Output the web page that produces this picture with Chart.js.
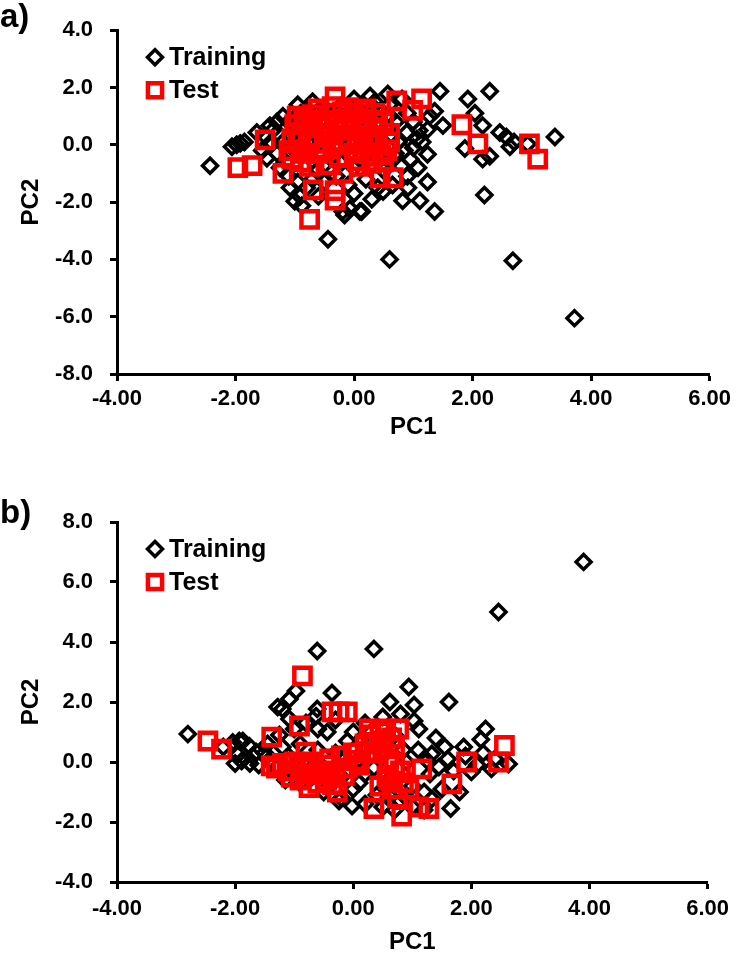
<!DOCTYPE html>
<html><head><meta charset="utf-8">
<script src="https://cdn.jsdelivr.net/npm/chart.js@4.4.0/dist/chart.umd.min.js"></script>
<style>
html,body{margin:0;padding:0;background:#fff;}
#wrap{position:relative;width:736px;height:962px;overflow:hidden;}
.panel{position:absolute;left:0;width:736px;height:481px;}
#pa{top:0;}
#pb{top:481px;}
.lbl{position:absolute;left:0;font:bold 33px "Liberation Sans",Arial,sans-serif;color:#000;line-height:36px;}
</style></head>
<body><div id="wrap">
<div class="panel" id="pa"><canvas id="ca" width="736" height="481"></canvas></div>
<div class="panel" id="pb"><canvas id="cb" width="736" height="481"></canvas></div>
<div class="lbl" style="top:-2px">a)</div>
<div class="lbl" style="top:494px">b)</div>
</div>
<script>
// ---- tick values / labels ----
const xTickValues = [-4, -2, 0, 2, 4, 6];
const xTickLabels = ['-4.00', '-2.00', '0.00', '2.00', '4.00', '6.00'];
const yTickValuesA = [-8, -6, -4, -2, 0, 2, 4];
const yTickLabelsA = ['-8.0', '-6.0', '-4.0', '-2.0', '0.0', '2.0', '4.0'];
const yTickValuesB = [-4, -2, 0, 2, 4, 6, 8];
const yTickLabelsB = ['-4.0', '-2.0', '0.0', '2.0', '4.0', '6.0', '8.0'];
const seriesNames = ['Training', 'Test'];

// ---- panel a) data [PC1, PC2] ----
const trainA = [
 [3.72,-6.05],[2.68,-4.05],[0.6,-4.0],[-0.44,-3.3],[2.2,-1.75],[0.1,-2.33],[-0.16,-2.45],[1.36,-2.33],
 [0.82,-1.95],[1.11,-1.95],[0.49,-1.63],[0.91,-1.5],[1.24,-1.3],[1.08,-0.8],[1.24,-0.33],[1.06,0.2],
 [0.89,0.43],[1.24,0.53],[1.5,0.67],[1.28,1.0],[1.36,1.17],[1.45,1.87],[1.92,1.6],[2.29,1.87],
 [0.27,1.7],[0.57,1.77],[0.81,1.6],[0.32,1.33],[2.04,1.1],[2.17,0.67],[2.46,0.43],[2.57,0.27],
 [2.63,-0.07],[2.7,0.1],[1.87,-0.13],[2.17,-0.5],[2.29,-0.4],[3.39,0.27],[2.93,0.03],
 [-2.43,-0.73],[-2.06,-0.07],[-1.98,0.0],[-1.92,0.05],[-1.85,0.1],[-1.64,0.43],[-1.5,0.3],[-1.42,0.67],
 [-1.35,0.55],[-1.2,0.1],[-1.3,-0.3],[-1.15,-0.6],[-1.47,-0.47],[-1.08,-1.5],[-1.0,-1.97],[-0.88,-2.13],
 [-0.91,-1.8],[-0.63,-0.9],[-0.19,-2.33],[-0.07,-2.23],[0.13,-2.33],
 [-1.1,0.8],[-1.0,0.95],[-0.9,1.1],[-0.8,1.2],[-0.6,1.15],[-0.5,1.3],[-0.4,1.0],[-0.3,1.2],
 [-0.2,1.4],[-0.1,1.1],[0.0,1.25],[0.1,0.9],[0.2,1.1],[0.35,1.5],[0.45,1.2],[0.6,1.0],[0.7,0.8],
 [-1.05,0.3],[-0.95,0.5],[-0.85,0.2],[-0.75,0.6],[-0.65,0.35],[-0.55,0.1],[-0.45,0.55],[-0.35,0.25],
 [-0.25,0.7],[-0.15,0.4],[-0.05,0.05],[0.05,0.6],[0.15,0.3],[0.25,-0.1],[0.35,0.45],[0.45,0.15],
 [0.55,0.6],[0.65,0.3],[0.75,0.1],[0.85,-0.2],[-1.0,-0.2],[-0.9,-0.4],[-0.8,-0.1],[-0.7,-0.55],
 [-0.6,-0.3],[-0.5,-0.7],[-0.4,-0.45],[-0.3,-0.15],[-0.2,-0.6],[-0.1,-0.35],[0.0,-0.8],[0.1,-0.5],
 [0.2,-0.25],[0.3,-0.7],[0.4,-0.4],[0.5,-0.9],[0.6,-0.55],[0.7,-0.3],[0.8,-0.75],[0.9,-1.1],
 [-0.7,-1.2],[-0.5,-1.3],[-0.3,-1.1],[-0.1,-1.4],[0.2,-1.2],[0.4,-1.5],[-0.8,-1.5],[-0.6,-1.8],
 [0.0,-1.7],[0.3,-1.9],[0.65,-1.4],[-1.3,0.8],[-1.2,1.0],[-0.95,1.4],[-0.7,1.5],[0.0,1.6],
 [0.6,1.4],[0.9,1.1],[1.0,0.8],[1.1,0.5],[1.15,0.1],[1.0,-0.1],[0.95,-0.5],
 [-1.4,0.1],[-1.55,-0.2],[-1.25,-0.8],[-1.1,-1.1],[-0.95,-1.3]
];
const testA = [
 [-0.32,1.67],[-0.37,1.33],[0.72,1.53],[1.14,1.6],[0.99,1.2],[1.82,0.7],[2.09,0.03],[2.96,0.03],
 [3.1,-0.5],[-1.5,0.17],[-1.96,-0.8],[-1.72,-0.73],[-1.2,-1.0],[-0.69,-1.57],[-0.32,-1.6],[-0.32,-1.93],
 [-0.75,-2.6],[-0.19,-1.0],[0.44,-1.15],[0.66,-1.15],[-0.96,1.0],
 [-1.0,0.7],[-0.9,0.4],[-0.85,0.9],[-0.75,0.1],[-0.7,0.6],[-0.6,0.85],[-0.5,0.3],[-0.45,0.7],
 [-0.35,0.0],[-0.25,0.5],[-0.15,0.9],[-0.1,0.2],[0.0,1.1],[0.0,-0.3],[0.1,0.5],[0.15,0.0],
 [0.2,0.9],[0.25,0.3],[0.3,-0.4],[0.35,0.6],[0.4,0.1],[0.5,0.8],[0.55,-0.2],[0.6,0.4],
 [-1.1,-0.2],[-1.05,0.2],[-0.9,-0.6],[-0.6,-0.3],[-0.4,-0.7],[0.1,-0.75],[0.5,-0.6],[-0.1,1.3],
 [0.2,1.25],[-0.7,1.05],
 [-0.95,0.15],[-0.8,0.75],[-0.65,0.05],[-0.55,0.6],[-0.4,0.35],[-0.3,0.85],[-0.2,0.1],[-0.05,0.6],
 [0.05,0.15],[0.15,0.7],[0.3,0.05],[0.4,0.85],[0.45,-0.35],[0.6,0.1],[-0.85,-0.3],[-0.5,-0.15],
 [-0.25,-0.45],[0.05,-0.55],[0.3,-0.65],[-0.6,1.25],[-0.2,1.15],[0.35,1.1],[-1.05,-0.5],[-0.75,-0.75]
];

// ---- panel b) data [PC1, PC2] ----
const trainB = [
 [3.9,6.67],[2.46,5.0],[-0.61,3.7],[0.35,3.77],[0.94,2.5],[1.62,2.0],[0.62,2.0],[1.03,1.9],
 [-0.36,2.3],[-0.97,2.37],[-1.08,2.1],[-1.28,1.83],[-1.2,1.77],[-1.08,1.43],[-0.63,1.53],[-0.61,1.77],
 [1.03,1.37],[1.11,1.1],[-0.44,1.0],[-2.8,0.93],[-1.87,0.7],[-2.04,0.65],[-1.93,0.7],[-1.76,0.53],
 [-1.64,0.33],[-1.89,0.03],[2.24,1.1],[2.16,0.75],[1.87,0.5],[2.63,-0.07],[1.33,0.27],[1.45,-0.17],
 [1.65,-1.55],[1.33,-1.23],[-0.24,-1.3],[-0.02,-1.47],[2.0,-0.33],[2.34,-0.23],
 [-1.5,0.3],[-1.4,0.1],[-1.3,-0.2],[-1.2,0.5],[-1.1,0.2],[-1.0,-0.3],[-0.9,0.6],[-0.8,0.0],
 [-0.7,-0.5],[-0.6,0.4],[-0.5,-0.2],[-0.4,-0.8],[-0.3,0.3],[-0.2,-0.5],[-0.1,0.7],[0.0,-0.9],
 [0.1,0.1],[0.2,-0.4],[0.3,0.6],[0.4,-1.1],[0.5,0.2],[0.6,-0.6],[0.7,0.9],[0.8,-1.3],
 [0.9,0.0],[1.0,-0.8],[1.1,0.4],[1.2,-1.0],[1.3,-0.4],[1.4,0.8],[1.5,-0.9],[1.6,0.1],
 [1.7,-0.3],[1.8,-1.0],[2.1,-0.1],[2.2,0.3],[2.4,0.1],[-1.6,-0.1],[-1.7,0.2],[-1.25,0.9],
 [-1.0,1.1],[-0.8,1.3],[-0.6,1.1],[-0.3,1.4],[0.0,1.0],[0.2,1.3],[0.5,1.5],[0.8,1.6],
 [-0.5,-1.0],[-0.2,-1.2],[0.2,-1.4],[0.5,-1.5],[0.7,-1.6],[1.0,-1.5],[1.2,-1.6],[0.6,-1.1],
 [0.9,-1.2],[-0.9,-0.7],[-1.15,-0.6],[0.1,-0.7],[0.35,-0.2],[1.25,0.05],[1.55,0.5],[1.9,0.2],
 [0.85,0.4],[-0.15,0.1],[-0.65,-0.1],[-1.45,0.6],[-2.2,0.5],[-1.95,0.25],[-2.0,-0.05],[-1.75,-0.05]
];
const testB = [
 [-0.86,2.87],[-0.36,1.67],[-0.24,1.67],[-0.1,1.67],[-0.91,1.2],[-1.38,0.83],[-2.46,0.7],[-2.23,0.43],
 [2.56,0.55],[1.92,0.0],[2.46,0.0],[1.16,-0.23],[1.67,-0.73],[0.35,-1.55],[0.82,-1.8],[1.28,-1.55],
 [1.11,-1.5],[-1.39,-0.13],[-0.8,0.33],[0.57,-0.47],[0.66,-0.9],[0.94,-0.9],[0.55,1.1],[0.77,1.1],
 [0.27,1.1],[-0.27,-1.0],
 [-1.3,-0.2],[-1.1,-0.3],[-1.0,0.0],[-0.9,-0.6],[-0.8,-0.4],[-0.7,0.0],[-0.6,-0.7],[-0.5,-0.3],
 [-0.4,0.1],[-0.3,-0.5],[-0.2,0.2],[-0.1,-0.2],[0.0,0.3],[0.1,-0.1],[0.2,0.6],[0.3,0.9],
 [0.4,0.3],[0.5,0.7],[0.6,0.1],[0.7,0.5],[0.8,-0.3],[-0.75,-0.85],[-0.45,-0.6],[0.45,-0.8],[0.75,-1.2],
 [-1.2,-0.05],[-1.05,-0.5],[-0.85,-0.15],[-0.65,-0.4],[-0.45,-0.1],[-0.35,-0.75],[-0.15,-0.45],[0.05,0.05],
 [0.25,0.35],[0.35,0.65],[0.5,0.45],[0.65,0.8],[0.7,-0.1],[0.6,-0.6],[0.85,-0.7],[0.45,1.0]
];

const FONT = '"Liberation Sans", Arial, sans-serif';
const toXY = arr => arr.map(p => ({x: p[0], y: p[1]}));
const legendRowOffsets = [27, 60];
const legendMarkerRadius = [7.5, 10];

// legend drawn inside the plot area, top-left, from each dataset's own style
const insideLegend = {
  id: 'insideLegend',
  afterDatasetsDraw(chart) {
    const ctx = chart.ctx, ca = chart.chartArea;
    chart.data.datasets.forEach((ds, i) => {
      const cx = ca.left + 38, cy = ca.top + legendRowOffsets[i];
      const r = legendMarkerRadius[i];
      ctx.save();
      ctx.strokeStyle = ds.borderColor;
      ctx.lineWidth = ds.pointBorderWidth;
      ctx.lineJoin = 'miter';
      ctx.beginPath();
      if (ds.pointStyle === 'rectRot') {
        ctx.moveTo(cx, cy - r); ctx.lineTo(cx + r, cy); ctx.lineTo(cx, cy + r); ctx.lineTo(cx - r, cy); ctx.closePath();
      } else {
        const s = r * Math.SQRT1_2;
        ctx.rect(cx - s, cy - s, 2 * s, 2 * s);
      }
      ctx.stroke();
      ctx.fillStyle = '#000';
      ctx.font = 'bold 25px ' + FONT;
      ctx.textBaseline = 'middle';
      ctx.textAlign = 'left';
      ctx.fillText(ds.label, ca.left + 52, cy + 1);
      ctx.restore();
    });
  }
};

function makeChart(id, train, test, yVals, yLabels, yMin, yMax, pad, xH, xTickPad) {
  return new Chart(document.getElementById(id), {
    type: 'scatter',
    data: {
      datasets: [
        { label: seriesNames[0], data: toXY(train), order: 1,
          pointStyle: 'rectRot', pointRadius: 7.5, pointBorderWidth: 3.5,
          borderColor: '#000000', backgroundColor: 'rgba(0,0,0,0)' },
        { label: seriesNames[1], data: toXY(test), order: 0,
          pointStyle: 'rect', pointRadius: 11.5, pointBorderWidth: 4.5,
          borderColor: '#ff0000', backgroundColor: 'rgba(0,0,0,0)' }
      ]
    },
    options: {
      responsive: false, animation: false, devicePixelRatio: 1, events: [],
      layout: { padding: pad },
      plugins: {
        tooltip: { enabled: false },
        legend: { display: false }
      },
      scales: {
        x: {
          type: 'linear', min: -4, max: 6,
          afterBuildTicks: s => { s.ticks = xTickValues.map(v => ({ value: v })); },
          afterFit: s => { s.height = xH; },
          ticks: { color: '#000', padding: xTickPad, maxRotation: 0,
                   font: { family: FONT, size: 22, weight: 'bold' },
                   callback: (v) => xTickLabels[xTickValues.indexOf(v)] },
          border: { color: '#000', width: 3 },
          grid: { drawOnChartArea: false, drawTicks: true, tickLength: 7, tickWidth: 3, color: '#000' },
          title: { display: true, text: 'PC1', color: '#000', padding: { top: 4, bottom: 4 },
                   font: { family: FONT, size: 24, weight: 'bold' } }
        },
        y: {
          type: 'linear', min: yMin, max: yMax,
          afterBuildTicks: s => { s.ticks = yVals.map(v => ({ value: v })); },
          afterFit: s => { s.width = 104; },
          ticks: { color: '#000', padding: 17,
                   font: { family: FONT, size: 22, weight: 'bold' },
                   callback: (v) => yLabels[yVals.indexOf(v)] },
          border: { color: '#000', width: 3 },
          grid: { drawOnChartArea: false, drawTicks: true, tickLength: 7, tickWidth: 3, color: '#000' },
          title: { display: true, text: 'PC2', color: '#000', padding: { top: 4, bottom: 4 },
                   font: { family: FONT, size: 24, weight: 'bold' } }
        }
      }
    },
    plugins: [insideLegend]
  });
}

makeChart('ca', trainA, testA, yTickValuesA, yTickLabelsA, -8, 4,
          { left: 13, right: 24, top: 13, bottom: 35 }, 72, 5);
makeChart('cb', trainB, testB, yTickValuesB, yTickLabelsB, -4, 8,
          { left: 13, right: 24, top: 41, bottom: 1 }, 79, 7);
</script>
</body></html>
